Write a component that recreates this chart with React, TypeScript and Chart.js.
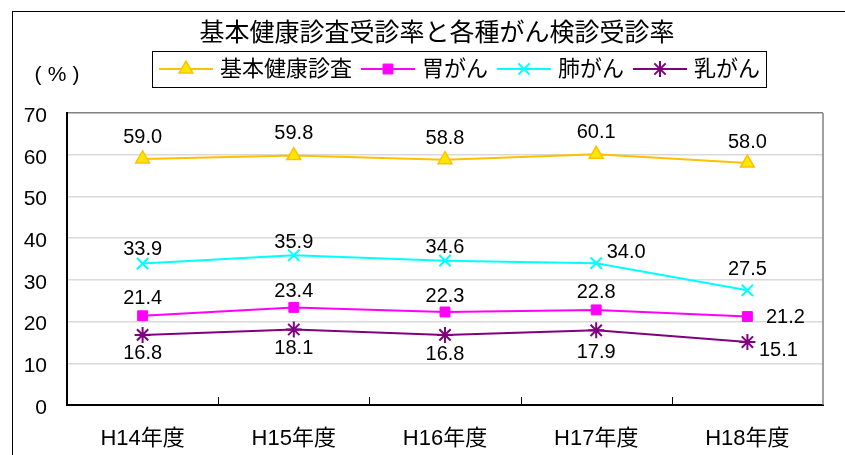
import React, { useEffect, useRef } from 'react';
import { Chart, registerables } from 'chart.js';
import * as helpers from 'chart.js/helpers';

Chart.register(...registerables);

const chartTitle = '基本健康診査受診率と各種がん検診受診率';
const unitParts = ['(', '%', ')'];
const categories = ['H14年度', 'H15年度', 'H16年度', 'H17年度', 'H18年度'];
const seriesNames = ['基本健康診査', '胃がん', '肺がん', '乳がん'];
const kihonValues = [59.0, 59.8, 58.8, 60.1, 58.0];
const iganValues = [21.4, 23.4, 22.3, 22.8, 21.2];
const haiganValues = [33.9, 35.9, 34.6, 34.0, 27.5];
const nyuganValues = [16.8, 18.1, 16.8, 17.9, 15.1];
const yMin = 0;
const yMax = 70;
const yStep = 10;

const FONT = '"Liberation Sans", "Noto Sans CJK JP", sans-serif';

const decorPlugin = {
  id: 'decor',
  beforeDraw(chart: any) {
    const { ctx, width, height } = chart;
    ctx.save();
    ctx.fillStyle = '#ffffff';
    ctx.fillRect(0, 0, width, height);
    ctx.restore();
  },
  afterDraw(chart: any) {
    const { ctx, chartArea } = chart;
    const xs = chart.scales.x;
    ctx.save();
    // outer frame
    ctx.strokeStyle = '#000000';
    ctx.lineWidth = 1;
    ctx.strokeRect(12.5, 11.5, 900, 500);
    // right border of plot
    ctx.strokeStyle = '#808080';
    ctx.lineWidth = 1.5;
    ctx.beginPath();
    ctx.moveTo(chartArea.right, chartArea.top);
    ctx.lineTo(chartArea.right, chartArea.bottom);
    ctx.stroke();
    // inside tick marks on x axis at category boundaries
    ctx.strokeStyle = '#000000';
    ctx.lineWidth = 1;
    for (let i = 1; i < categories.length; i++) {
      const x = Math.round((xs.getPixelForValue(i - 1) + xs.getPixelForValue(i)) / 2) + 0.5;
      ctx.beginPath();
      ctx.moveTo(x, chartArea.bottom);
      ctx.lineTo(x, chartArea.bottom - 8);
      ctx.stroke();
    }
    // title
    ctx.fillStyle = '#000000';
    ctx.font = `25px ${FONT}`;
    ctx.textAlign = 'center';
    ctx.textBaseline = 'middle';
    ctx.fillText(chartTitle, 437, 34);
    // unit label
    ctx.font = `21px ${FONT}`;
    ctx.fillText(unitParts[0], 38, 75);
    ctx.fillText(unitParts[1], 57, 75);
    ctx.fillText(unitParts[2], 76, 75);
    // legend
    const boxLeft = 152;
    const boxTop = 51;
    const boxH = 36;
    const cy = boxTop + boxH / 2;
    ctx.font = `22px ${FONT}`;
    let x = boxLeft + 7;
    const items: any[] = [];
    chart.data.datasets.forEach((ds: any, i: number) => {
      const lineStart = x;
      const lineEnd = x + 54;
      const textX = lineEnd + 7;
      const tw = ctx.measureText(ds.label).width;
      items.push({ ds, i, lineStart, lineEnd, textX });
      x = textX + tw + 9;
    });
    const boxRight = x - 3;
    ctx.strokeStyle = '#000000';
    ctx.lineWidth = 1;
    ctx.fillStyle = '#ffffff';
    ctx.fillRect(boxLeft, boxTop, boxRight - boxLeft, boxH);
    ctx.strokeRect(boxLeft + 0.5, boxTop + 0.5, boxRight - boxLeft, boxH);
    items.forEach(({ ds, lineStart, lineEnd, textX }) => {
      ctx.strokeStyle = ds.borderColor;
      ctx.lineWidth = 2;
      ctx.beginPath();
      ctx.moveTo(lineStart, cy);
      ctx.lineTo(lineEnd, cy);
      ctx.stroke();
      ctx.fillStyle = ds.pointBackgroundColor;
      ctx.strokeStyle = ds.pointBorderColor;
      ctx.lineWidth = ds.pointBorderWidth;
      helpers.drawPoint(ctx, { pointStyle: ds.pointStyle, radius: ds.pointRadius, borderWidth: ds.pointBorderWidth } as any, (lineStart + lineEnd) / 2, cy);
      ctx.fillStyle = '#000000';
      ctx.textAlign = 'left';
      ctx.textBaseline = 'middle';
      ctx.fillText(ds.label, textX, cy + 1);
    });
    ctx.restore();
  },
  afterDatasetsDraw(chart: any) {
    const { ctx } = chart;
    ctx.save();
    ctx.font = `20px ${FONT}`;
    ctx.fillStyle = '#000000';
    ctx.textAlign = 'center';
    ctx.textBaseline = 'middle';
    chart.data.datasets.forEach((ds: any, di: number) => {
      const meta = chart.getDatasetMeta(di);
      meta.data.forEach((pt: any, i: number) => {
        const off = ds.labelOffsets[i];
        ctx.fillText(Number(ds.data[i]).toFixed(1), pt.x + off[0], pt.y + off[1]);
      });
    });
    ctx.restore();
  },
};

export default function App() {
  const ref = useRef<HTMLCanvasElement>(null);
  useEffect(() => {
    document.body.style.margin = '0';
    Chart.defaults.font.family = FONT;
    const chart = new Chart(ref.current as HTMLCanvasElement, {
      type: 'line',
      data: {
        labels: categories,
        datasets: [
          {
            label: seriesNames[0],
            data: kihonValues,
            borderColor: '#FFC000',
            backgroundColor: '#FFE800',
            pointBackgroundColor: '#FFE800',
            pointBorderColor: '#FFC000',
            pointBorderWidth: 1.5,
            pointStyle: 'triangle',
            pointRadius: 8,
            borderWidth: 2,
            labelOffsets: [[0, -21], [0, -22], [0, -21], [0, -22], [0, -21]],
          } as any,
          {
            label: seriesNames[1],
            data: iganValues,
            borderColor: '#FF00FF',
            backgroundColor: '#FF00FF',
            pointBackgroundColor: '#FF00FF',
            pointBorderColor: '#FF00FF',
            pointBorderWidth: 1,
            pointStyle: 'rect',
            pointRadius: 7,
            borderWidth: 2,
            labelOffsets: [[0, -17], [0, -16], [0, -15], [0, -17], [38, 1]],
          } as any,
          {
            label: seriesNames[2],
            data: haiganValues,
            borderColor: '#00FFFF',
            backgroundColor: '#00FFFF',
            pointBackgroundColor: '#00FFFF',
            pointBorderColor: '#00FFFF',
            pointBorderWidth: 2,
            pointStyle: 'crossRot',
            pointRadius: 8,
            borderWidth: 2,
            labelOffsets: [[0, -14], [0, -13], [0, -13], [30, -11], [0, -21]],
          } as any,
          {
            label: seriesNames[3],
            data: nyuganValues,
            borderColor: '#800080',
            backgroundColor: '#800080',
            pointBackgroundColor: '#800080',
            pointBorderColor: '#800080',
            pointBorderWidth: 2,
            pointStyle: 'star',
            pointRadius: 8,
            borderWidth: 2,
            labelOffsets: [[0, 19], [0, 19], [0, 20], [0, 22], [31, 8]],
          } as any,
        ],
      },
      options: {
        responsive: false,
        animation: false,
        layout: { padding: { left: 0, top: 113, right: 22, bottom: 0 } },
        plugins: {
          legend: { display: false },
          title: { display: false },
          tooltip: { enabled: false },
        },
        elements: { line: { tension: 0 } },
        scales: {
          x: {
            type: 'category',
            offset: true,
            grid: { display: false, drawTicks: false },
            border: { display: true, color: '#000000', width: 2 },
            ticks: { color: '#000000', font: { size: 22, family: FONT }, padding: 21, maxRotation: 0 },
            afterFit: (s: any) => { s.height = 50; },
          },
          y: {
            min: yMin,
            max: yMax,
            ticks: { stepSize: yStep, color: '#000000', font: { size: 21, family: FONT }, padding: 20, labelOffset: 3 },
            grid: {
              drawTicks: false,
              color: (c: any) => (c.tick && c.tick.value === yMax ? '#808080' : '#D9D9D9'),
              lineWidth: 1.5,
            },
            border: { display: true, color: '#000000', width: 2 },
            afterFit: (s: any) => { s.width = 67; },
          },
        },
      },
      plugins: [decorPlugin],
    } as any);
    return () => chart.destroy();
  }, []);
  return (
    <div style={{ position: 'absolute', left: 0, top: 0, width: 845, height: 455 }}>
      <canvas ref={ref} width={845} height={455} style={{ display: 'block' }} />
    </div>
  );
}
